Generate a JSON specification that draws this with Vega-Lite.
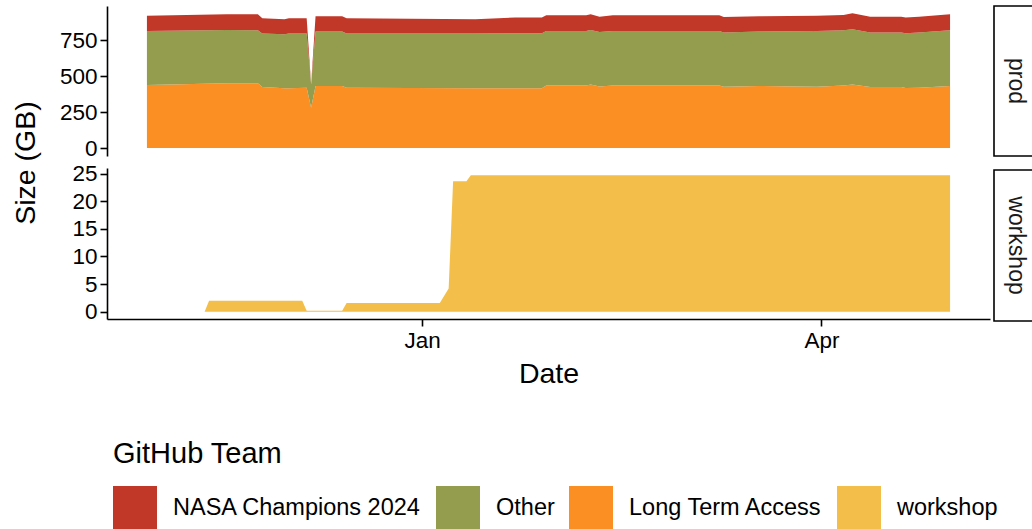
{
  "$schema": "https://vega.github.io/schema/vega-lite/v6.json",
  "padding": {"left": 11, "top": 5, "right": 0, "bottom": 0},
  "config": {
    "font": "Liberation Sans",
    "view": {"stroke": null},
    "axis": {
      "domainColor": "black", "domainWidth": 1.6,
      "tickColor": "black", "tickWidth": 1.6, "tickSize": 7,
      "labelColor": "black", "labelFontSize": 22.5, "labelFont": "Liberation Sans",
      "titleFontSize": 28.5, "titleFontWeight": "normal", "titleColor": "black", "titleFont": "Liberation Sans",
      "grid": false, "labelPadding": 3
    }
  },
  "datasets": {
    "prod": [
      {"date": "2024-10-31", "team": "Long Term Access", "size": 438}, {"date": "2024-10-31", "team": "Other", "size": 376}, {"date": "2024-10-31", "team": "NASA Champions 2024", "size": 106},
      {"date": "2024-11-18", "team": "Long Term Access", "size": 450}, {"date": "2024-11-18", "team": "Other", "size": 371}, {"date": "2024-11-18", "team": "NASA Champions 2024", "size": 109},
      {"date": "2024-11-25", "team": "Long Term Access", "size": 450}, {"date": "2024-11-25", "team": "Other", "size": 369}, {"date": "2024-11-25", "team": "NASA Champions 2024", "size": 111},
      {"date": "2024-11-26", "team": "Long Term Access", "size": 425}, {"date": "2024-11-26", "team": "Other", "size": 371}, {"date": "2024-11-26", "team": "NASA Champions 2024", "size": 107},
      {"date": "2024-12-01", "team": "Long Term Access", "size": 416}, {"date": "2024-12-01", "team": "Other", "size": 376}, {"date": "2024-12-01", "team": "NASA Champions 2024", "size": 104},
      {"date": "2024-12-02", "team": "Long Term Access", "size": 416}, {"date": "2024-12-02", "team": "Other", "size": 380}, {"date": "2024-12-02", "team": "NASA Champions 2024", "size": 107},
      {"date": "2024-12-06", "team": "Long Term Access", "size": 420}, {"date": "2024-12-06", "team": "Other", "size": 376}, {"date": "2024-12-06", "team": "NASA Champions 2024", "size": 107},
      {"date": "2024-12-07", "team": "Long Term Access", "size": 280}, {"date": "2024-12-07", "team": "Other", "size": 163}, {"date": "2024-12-07", "team": "NASA Champions 2024", "size": 0},
      {"date": "2024-12-08", "team": "Long Term Access", "size": 432}, {"date": "2024-12-08", "team": "Other", "size": 378}, {"date": "2024-12-08", "team": "NASA Champions 2024", "size": 107},
      {"date": "2024-12-14", "team": "Long Term Access", "size": 432}, {"date": "2024-12-14", "team": "Other", "size": 378}, {"date": "2024-12-14", "team": "NASA Champions 2024", "size": 107},
      {"date": "2024-12-15", "team": "Long Term Access", "size": 420}, {"date": "2024-12-15", "team": "Other", "size": 376}, {"date": "2024-12-15", "team": "NASA Champions 2024", "size": 107},
      {"date": "2025-01-13", "team": "Long Term Access", "size": 416}, {"date": "2025-01-13", "team": "Other", "size": 380}, {"date": "2025-01-13", "team": "NASA Champions 2024", "size": 100},
      {"date": "2025-01-22", "team": "Long Term Access", "size": 416}, {"date": "2025-01-22", "team": "Other", "size": 383}, {"date": "2025-01-22", "team": "NASA Champions 2024", "size": 109},
      {"date": "2025-01-28", "team": "Long Term Access", "size": 416}, {"date": "2025-01-28", "team": "Other", "size": 383}, {"date": "2025-01-28", "team": "NASA Champions 2024", "size": 109},
      {"date": "2025-01-29", "team": "Long Term Access", "size": 436}, {"date": "2025-01-29", "team": "Other", "size": 378}, {"date": "2025-01-29", "team": "NASA Champions 2024", "size": 109},
      {"date": "2025-02-07", "team": "Long Term Access", "size": 436}, {"date": "2025-02-07", "team": "Other", "size": 378}, {"date": "2025-02-07", "team": "NASA Champions 2024", "size": 109},
      {"date": "2025-02-08", "team": "Long Term Access", "size": 443}, {"date": "2025-02-08", "team": "Other", "size": 378}, {"date": "2025-02-08", "team": "NASA Champions 2024", "size": 109},
      {"date": "2025-02-10", "team": "Long Term Access", "size": 429}, {"date": "2025-02-10", "team": "Other", "size": 378}, {"date": "2025-02-10", "team": "NASA Champions 2024", "size": 106},
      {"date": "2025-02-13", "team": "Long Term Access", "size": 436}, {"date": "2025-02-13", "team": "Other", "size": 378}, {"date": "2025-02-13", "team": "NASA Champions 2024", "size": 109},
      {"date": "2025-03-09", "team": "Long Term Access", "size": 436}, {"date": "2025-03-09", "team": "Other", "size": 378}, {"date": "2025-03-09", "team": "NASA Champions 2024", "size": 109},
      {"date": "2025-03-10", "team": "Long Term Access", "size": 427}, {"date": "2025-03-10", "team": "Other", "size": 376}, {"date": "2025-03-10", "team": "NASA Champions 2024", "size": 109},
      {"date": "2025-03-18", "team": "Long Term Access", "size": 432}, {"date": "2025-03-18", "team": "Other", "size": 378}, {"date": "2025-03-18", "team": "NASA Champions 2024", "size": 107},
      {"date": "2025-03-31", "team": "Long Term Access", "size": 427}, {"date": "2025-03-31", "team": "Other", "size": 388}, {"date": "2025-03-31", "team": "NASA Champions 2024", "size": 106},
      {"date": "2025-04-06", "team": "Long Term Access", "size": 435}, {"date": "2025-04-06", "team": "Other", "size": 384}, {"date": "2025-04-06", "team": "NASA Champions 2024", "size": 106},
      {"date": "2025-04-08", "team": "Long Term Access", "size": 443}, {"date": "2025-04-08", "team": "Other", "size": 383}, {"date": "2025-04-08", "team": "NASA Champions 2024", "size": 111},
      {"date": "2025-04-12", "team": "Long Term Access", "size": 425}, {"date": "2025-04-12", "team": "Other", "size": 378}, {"date": "2025-04-12", "team": "NASA Champions 2024", "size": 111},
      {"date": "2025-04-19", "team": "Long Term Access", "size": 425}, {"date": "2025-04-19", "team": "Other", "size": 378}, {"date": "2025-04-19", "team": "NASA Champions 2024", "size": 111},
      {"date": "2025-04-20", "team": "Long Term Access", "size": 418}, {"date": "2025-04-20", "team": "Other", "size": 381}, {"date": "2025-04-20", "team": "NASA Champions 2024", "size": 109},
      {"date": "2025-04-23", "team": "Long Term Access", "size": 420}, {"date": "2025-04-23", "team": "Other", "size": 383}, {"date": "2025-04-23", "team": "NASA Champions 2024", "size": 111},
      {"date": "2025-04-30", "team": "Long Term Access", "size": 432}, {"date": "2025-04-30", "team": "Other", "size": 388}, {"date": "2025-04-30", "team": "NASA Champions 2024", "size": 111}
    ],
    "workshop": [
      {"date": "2024-10-31", "team": "workshop", "size": 0},
      {"date": "2024-11-13", "team": "workshop", "size": 0},
      {"date": "2024-11-14", "team": "workshop", "size": 2.0},
      {"date": "2024-12-05", "team": "workshop", "size": 2.0},
      {"date": "2024-12-06", "team": "workshop", "size": 0.2},
      {"date": "2024-12-14", "team": "workshop", "size": 0.2},
      {"date": "2024-12-15", "team": "workshop", "size": 1.6},
      {"date": "2025-01-05", "team": "workshop", "size": 1.6},
      {"date": "2025-01-07", "team": "workshop", "size": 4.2},
      {"date": "2025-01-08", "team": "workshop", "size": 23.6},
      {"date": "2025-01-11", "team": "workshop", "size": 23.6},
      {"date": "2025-01-12", "team": "workshop", "size": 24.7},
      {"date": "2025-04-30", "team": "workshop", "size": 24.7}
    ]
  },
  "hconcat": [
    {
      "vconcat": [
        {
          "data": {"name": "prod"},
          "transform": [
            {"calculate": "indexof(['Long Term Access', 'Other', 'NASA Champions 2024'], datum.team)", "as": "stackOrder"}
          ],
          "width": 883,
          "height": 150,
          "mark": {"type": "area", "opacity": 1, "interpolate": "linear"},
          "encoding": {
            "x": {
              "field": "date", "type": "temporal",
              "scale": {"type": "utc", "domain": [{"year": 2024, "month": 10, "date": 22, "utc": true}, {"year": 2025, "month": 5, "date": 9, "utc": true}]},
              "axis": null
            },
            "y": {
              "field": "size", "type": "quantitative", "stack": "zero",
              "scale": {"domain": [-55, 988], "nice": false, "zero": false},
              "axis": {"values": [0, 250, 500, 750], "title": "Size (GB)", "titleX": -82, "titleY": 156.5, "titleAngle": -90, "titleBaseline": "middle", "titleAlign": "center"}
            },
            "order": {"field": "stackOrder", "type": "quantitative", "sort": "ascending"},
            "color": {
              "field": "team", "type": "nominal",
              "scale": {"domain": ["NASA Champions 2024", "Other", "Long Term Access", "workshop"], "range": ["#C13728", "#949C4E", "#FC8F24", "#F3BF4A"]},
              "legend": {
                "orient": "none", "legendX": 6, "legendY": 434, "direction": "horizontal", "columns": 4,
                "title": "GitHub Team", "titleOrient": "top", "titleFontSize": 29, "titleFontWeight": "normal", "titleColor": "black", "titleFont": "Liberation Sans", "titlePadding": 17,
                "labelFontSize": 23.5, "labelColor": "black", "labelFont": "Liberation Sans", "labelOffset": 16, "columnPadding": 14, "labelLimit": 400,
                "symbolType": "square", "symbolSize": 1936, "symbolStrokeWidth": 0, "symbolOpacity": 1
              }
            }
          }
        },
        {
          "data": {"name": "workshop"},
          "width": 883,
          "height": 151,
          "mark": {"type": "area", "opacity": 1, "interpolate": "linear"},
          "encoding": {
            "x": {
              "field": "date", "type": "temporal",
              "scale": {"type": "utc", "domain": [{"year": 2024, "month": 10, "date": 22, "utc": true}, {"year": 2025, "month": 5, "date": 9, "utc": true}]},
              "axis": {"values": [{"year": 2025, "month": 1, "date": 1, "utc": true}, {"year": 2025, "month": 4, "date": 1, "utc": true}], "format": "%b", "title": "Date", "titlePadding": 8}
            },
            "y": {
              "field": "size", "type": "quantitative", "stack": "zero",
              "scale": {"domain": [-1.3, 26], "nice": false, "zero": false},
              "axis": {"values": [0, 5, 10, 15, 20, 25], "title": null}
            },
            "color": {
              "field": "team", "type": "nominal",
              "scale": {"domain": ["NASA Champions 2024", "Other", "Long Term Access", "workshop"], "range": ["#C13728", "#949C4E", "#FC8F24", "#F3BF4A"]}
            }
          }
        }
      ],
      "spacing": 12,
      "bounds": "flush",
      "resolve": {"scale": {"x": "independent", "y": "independent"}}
    },
    {
      "vconcat": [
        {
          "data": {"values": [{"panel": "prod"}]},
          "width": 44,
          "height": 150,
          "view": {"stroke": "black", "strokeWidth": 1.6, "fill": "white"},
          "mark": {"type": "text", "angle": 90, "fontSize": 23, "font": "Liberation Sans", "color": "#1a1a1a"},
          "encoding": {"text": {"field": "panel"}}
        },
        {
          "data": {"values": [{"panel": "workshop"}]},
          "width": 44,
          "height": 151,
          "view": {"stroke": "black", "strokeWidth": 1.6, "fill": "white"},
          "mark": {"type": "text", "angle": 90, "fontSize": 23, "font": "Liberation Sans", "color": "#1a1a1a"},
          "encoding": {"text": {"field": "panel"}}
        }
      ],
      "spacing": 12
    }
  ],
  "spacing": 3
}
